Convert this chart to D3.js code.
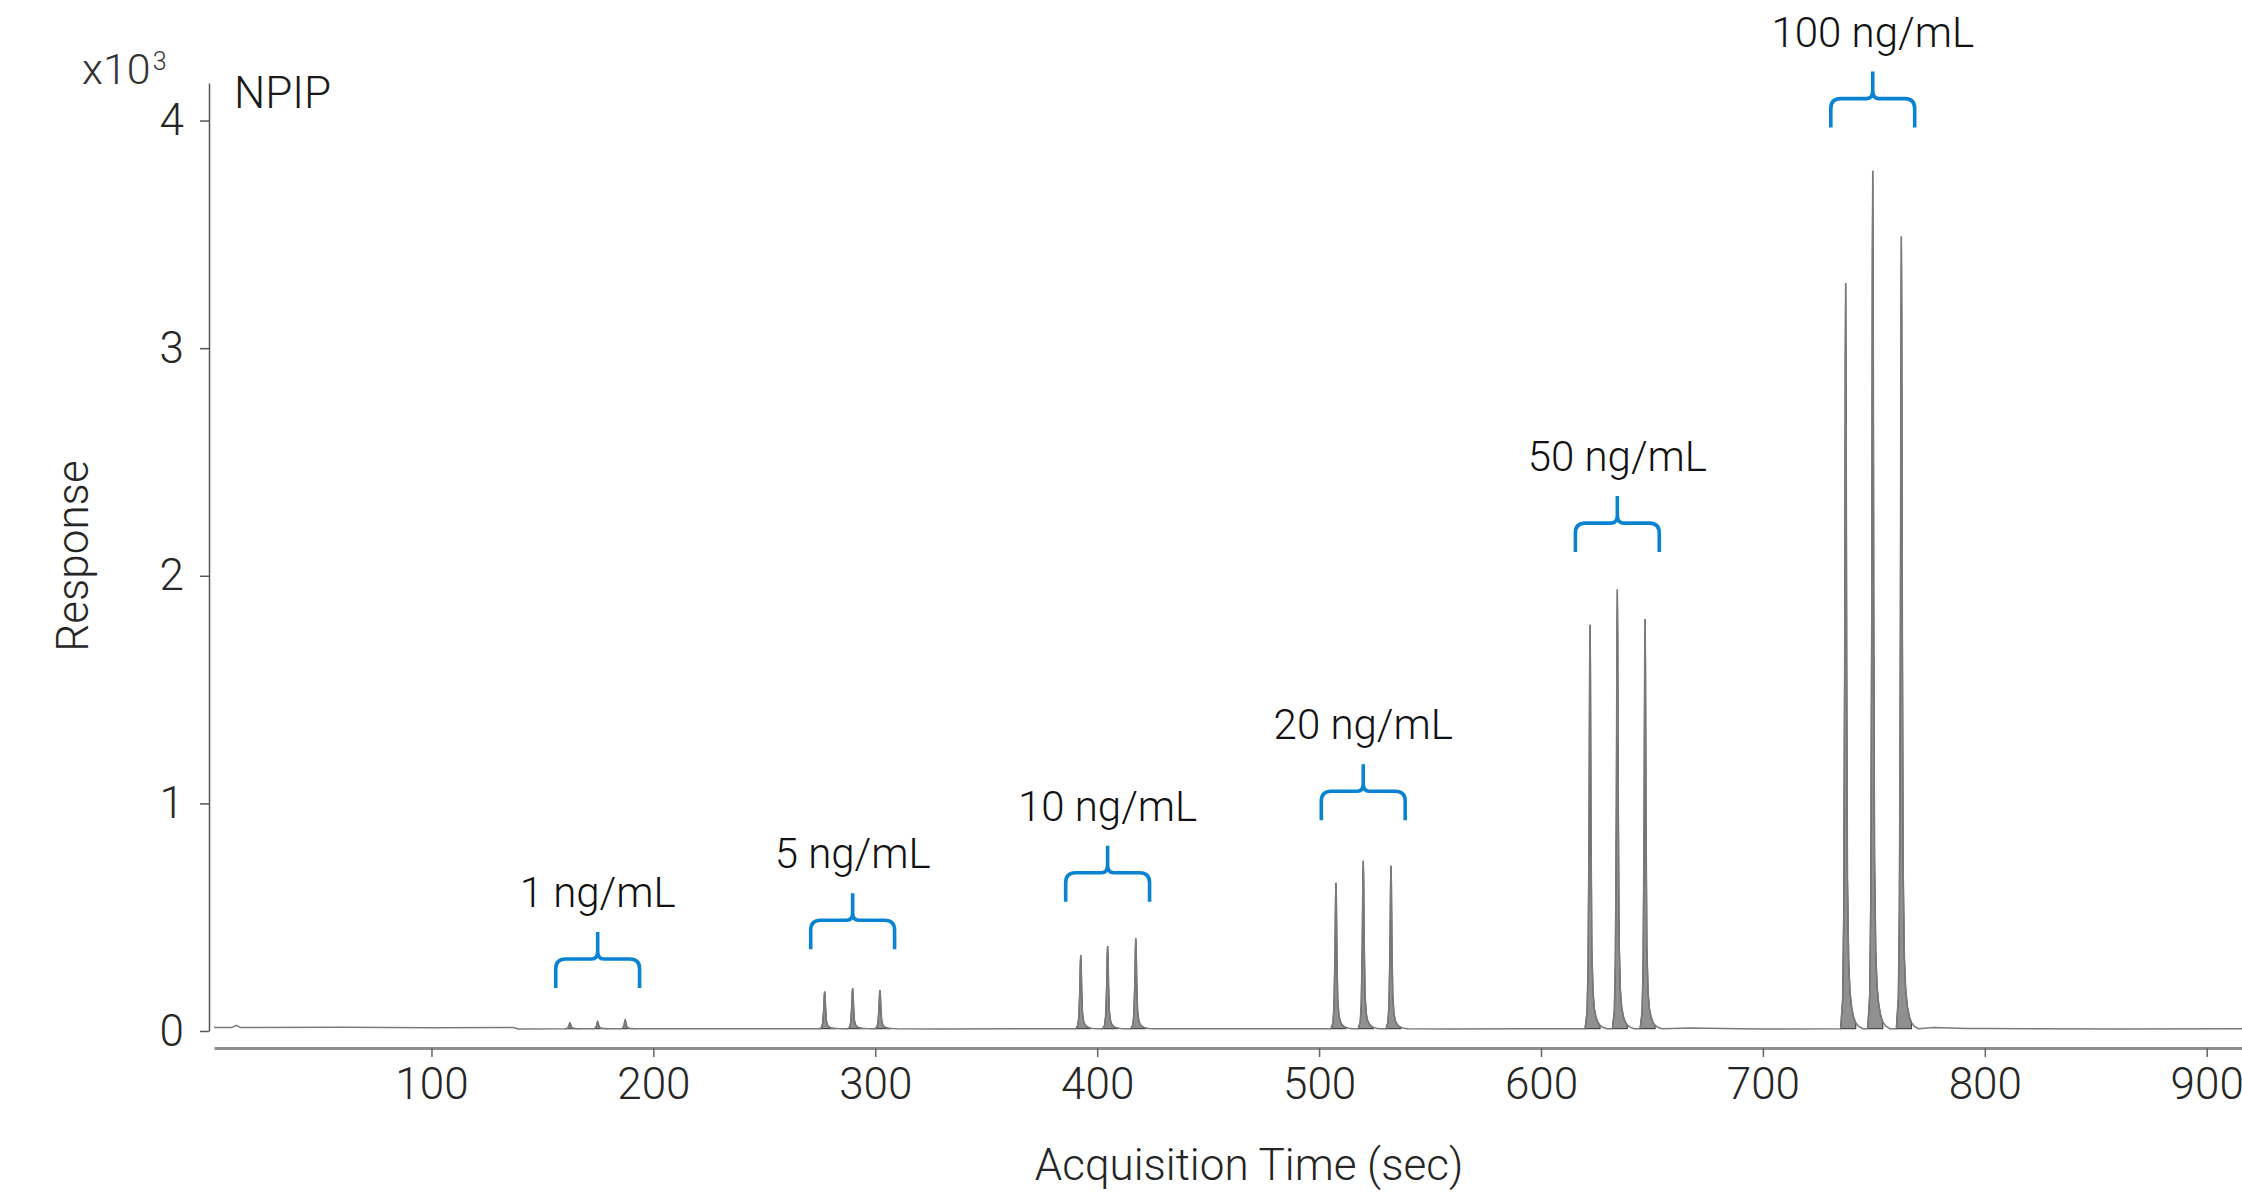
<!doctype html>
<html lang=en>

<head>
  <meta charset=utf-8>
  <title>NPIP</title>
  <style>
    body { margin: 0; background: white; }
    text { font-family: Roboto, "Noto Sans", sans-serif; font-weight: 300; }
  </style>
</head>

<body>
  <svg></svg>
  <script src="https://d3js.org/d3.v7.min.js"></script>
  <script>
    var width = 2242;
    var height = 1192;

    // concentration groups, three injections each
    var groupLabels = ["1 ng/mL", "5 ng/mL", "10 ng/mL", "20 ng/mL", "50 ng/mL", "100 ng/mL"];
    var peakTimes = [
      [162.4, 174.9, 187.3],
      [277.2, 289.8, 302.1],
      [392.6, 404.7, 417.4],
      [507.6, 519.9, 532.4],
      [622.1, 634.4, 646.9],
      [737.3, 749.5, 762.4]
    ];
    var peakHeights = [
      [35, 41, 48],
      [173, 188, 180],
      [334, 373, 407],
      [651, 748, 726],
      [1785, 1940, 1810],
      [3286, 3780, 3491]
    ];
    // response level of the bottom of each brace
    var braceLevels = [189, 359, 568, 926, 2104, 3969];

    // baseline between peaks: [time, response]
    var baselineTrace = [
      [2, 15], [10, 15], [12, 25], [14, 15], [60, 16], [100, 14], [137, 15], [139, 9],
      [250, 10], [330, 9], [450, 10], [560, 9], [600, 10], [667, 13], [690, 10], [700, 9],
      [777, 15], [792, 11], [800, 11], [860, 9], [916, 10]
    ];
    var peakBase = 10;

    // tailing peak profile: [seconds from apex, fraction of apex height]
    var peakShape = [
      [-2.26, 0], [-1.36, 0.04], [-0.90, 0.15], [-0.45, 0.5], [-0.18, 0.9], [0, 1],
      [0.18, 0.9], [0.45, 0.5], [0.81, 0.2], [1.36, 0.09], [1.94, 0.05], [2.71, 0.028],
      [3.62, 0.015], [4.52, 0.008], [5.88, 0.003], [7.69, 0]
    ];
    var fillEnd = 4.52;

    var xTicks = [100, 200, 300, 400, 500, 600, 700, 800, 900];
    var yTicks = [0, 1000, 2000, 3000, 4000];

    var svg = d3.select("svg")
      .attr("width", width)
      .attr("height", height);

    var xScale = d3.scaleLinear()
      .domain([2, 915.9])
      .range([214, width]);

    var yScale = d3.scaleLinear()
      .domain([0, 4165])
      .range([1031, 83]);

    // build trace
    var trace = baselineTrace.slice();
    var peaks = [];
    peakTimes.forEach(function (times, g) {
      times.forEach(function (t, i) {
        var h = peakHeights[g][i];
        var pts = peakShape.map(function (s) {
          return [t + s[0], peakBase + s[1] * (h - peakBase)];
        });
        peaks.push(pts);
        trace = trace.concat(pts);
      });
    });
    trace.sort(function (a, b) { return a[0] - b[0]; });

    var valueline = d3.line()
      .x(function (d) { return xScale(d[0]); })
      .y(function (d) { return yScale(d[1]); });

    var fillArea = d3.area()
      .x(function (d) { return xScale(d[0]); })
      .y0(yScale(peakBase))
      .y1(function (d) { return yScale(d[1]); });

    // integrated peak areas
    svg.append("g")
      .selectAll("path")
      .data(peaks)
      .join("path")
      .attr("d", function (pts) {
        var t0 = pts[5][0];
        return fillArea(pts.filter(function (d) { return d[0] - t0 <= fillEnd + 0.001; }));
      })
      .style("fill", "#909090")
      .style("stroke", "#4a4a4a")
      .style("stroke-width", "1.2px");

    svg.append("path")
      .datum(trace)
      .attr("d", valueline)
      .style("fill", "none")
      .style("stroke", "#7a7a7a")
      .style("stroke-width", "1.5px");

    // axes
    var xAxis = svg.append("g")
      .attr("transform", "translate(0,1048)")
      .call(d3.axisBottom(xScale).tickValues(xTicks).tickSize(9).tickSizeOuter(0).tickPadding(11));
    xAxis.select(".domain").style("stroke", "#8f8f8f").style("stroke-width", "3px");
    xAxis.selectAll(".tick line").style("stroke", "#666").style("stroke-width", "1.5px");
    xAxis.selectAll(".tick text")
      .style("font-size", "44px")
      .style("fill", "#262626");

    var yAxis = svg.append("g")
      .attr("transform", "translate(209,0)")
      .call(d3.axisLeft(yScale).tickValues(yTicks).tickSize(9).tickSizeOuter(0).tickPadding(16)
        .tickFormat(function (d) { return d / 1000; }));
    yAxis.select(".domain").style("stroke", "#555").style("stroke-width", "1.5px");
    yAxis.selectAll(".tick line").style("stroke", "#555").style("stroke-width", "1.5px");
    yAxis.selectAll(".tick text")
      .style("font-size", "44px")
      .style("fill", "#262626");

    var mult = svg.append("text")
      .attr("x", 82)
      .attr("y", 84)
      .style("font-size", "43px")
      .style("fill", "#333")
      .text("x10");
    mult.append("tspan")
      .attr("dx", 2)
      .attr("dy", -14)
      .style("font-size", "25px")
      .text("3");

    svg.append("text")
      .attr("x", 234)
      .attr("y", 108)
      .style("font-size", "44px")
      .style("fill", "#1a1a1a")
      .text("NPIP");

    svg.append("text")
      .attr("x", 1249)
      .attr("y", 1180)
      .attr("text-anchor", "middle")
      .style("font-size", "44px")
      .style("fill", "#262626")
      .text("Acquisition Time (sec)");

    svg.append("text")
      .attr("transform", "translate(88,556) rotate(-90)")
      .attr("text-anchor", "middle")
      .style("font-size", "44px")
      .style("fill", "#262626")
      .text("Response");

    // braces and concentration labels
    function bracePath(x0, cx, x1, yb) {
      var p = d3.path();
      var bar = yb - 29;
      p.moveTo(x0, yb);
      p.lineTo(x0, yb - 19);
      p.quadraticCurveTo(x0, bar, x0 + 10, bar);
      p.lineTo(cx - 6, bar);
      p.quadraticCurveTo(cx, bar, cx, bar - 8);
      p.lineTo(cx, yb - 56);
      p.moveTo(cx, bar - 8);
      p.quadraticCurveTo(cx, bar, cx + 6, bar);
      p.lineTo(x1 - 10, bar);
      p.quadraticCurveTo(x1, bar, x1, yb - 19);
      p.lineTo(x1, yb);
      return p.toString();
    }

    var braceHalf = 18.9;
    var ann = svg.append("g")
      .selectAll("g")
      .data(groupLabels)
      .join("g");

    ann.append("path")
      .attr("d", function (d, g) {
        var c = peakTimes[g][1];
        return bracePath(xScale(c - braceHalf), xScale(c), xScale(c + braceHalf), yScale(braceLevels[g]));
      })
      .style("fill", "none")
      .style("stroke", "#0a84d2")
      .style("stroke-width", "3.6px");

    ann.append("text")
      .attr("x", function (d, g) { return xScale(peakTimes[g][1]); })
      .attr("y", function (d, g) { return yScale(braceLevels[g]) - 81; })
      .attr("text-anchor", "middle")
      .style("font-size", "42px")
      .style("fill", "#111")
      .text(function (d) { return d; });
  </script>
</body>

</html>
